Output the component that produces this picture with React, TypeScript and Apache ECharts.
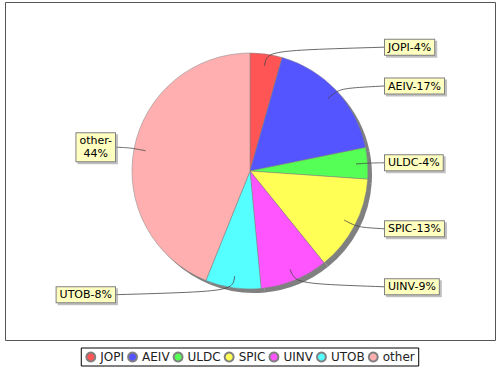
import React, { useEffect, useRef } from "react";
import * as echarts from "echarts";

const CATEGORIES = ["JOPI", "AEIV", "ULDC", "SPIC", "UINV", "UTOB", "other"];
const VALUES = [4.4, 17.4, 4.3, 13.1, 9.3, 7.6, 43.9];
const COLORS = ["#FF5555", "#5555FF", "#55FF55", "#FFFF55", "#FF55FF", "#55FFFF", "#FFAFAF"];
const WRAP_AFTER_DASH = ["other"];

const CX = 250;
const CY = 171;
const R = 118;
const SHADOW_OFFSET = 4;
const LABEL_X_OFFSET = 134;
const LABEL_Y_RADIUS = R + 7;
const LINK_RADIUS = R * 0.9;
const ELBOW_RADIUS = R * 1.03;

function midAngles(values: number[]): number[] {
  const total = values.reduce((a, b) => a + b, 0);
  let cum = 0;
  return values.map((v) => {
    const m = ((cum + v / 2) / total) * Math.PI * 2;
    cum += v;
    return m;
  });
}

function polar(theta: number, rho: number): [number, number] {
  return [CX + rho * Math.sin(theta), CY - rho * Math.cos(theta)];
}

function cubic(p0: number[], c: number[], p3: number[], n: number): number[][] {
  const pts: number[][] = [];
  for (let i = 0; i <= n; i++) {
    const t = i / n;
    const a = (1 - t) * (1 - t) * (1 - t);
    const b = 3 * (1 - t) * (1 - t) * t + 3 * (1 - t) * t * t;
    const d = t * t * t;
    pts.push([a * p0[0] + b * c[0] + d * p3[0], a * p0[1] + b * c[1] + d * p3[1]]);
  }
  return pts;
}

export default function App() {
  const ref = useRef<HTMLDivElement>(null);
  useEffect(() => {
    if (!ref.current) return;
    const chart = echarts.init(ref.current, undefined, { renderer: "svg" });
    const mids = midAngles(VALUES);
    const data = CATEGORIES.map((name, i) => ({ name, value: VALUES[i] }));
    const common = {
      type: "pie",
      center: [CX, CY],
      radius: [0, R],
      startAngle: 90,
      clockwise: true,
      avoidLabelOverlap: false,
      emphasis: { disabled: true },
    };
    chart.setOption({
      animation: false,
      backgroundColor: "#ffffff",
      textStyle: { fontFamily: "DejaVu Sans" },
      graphic: [
        {
          type: "rect",
          shape: { x: 5.5, y: 2.5, width: 490, height: 338 },
          style: { fill: "none", stroke: "#555555", lineWidth: 1 },
          z: 0,
          silent: true,
        },
      ],
      legend: {
        data: CATEGORIES,
        left: "center",
        top: 348,
        icon: "circle",
        itemWidth: 9,
        itemHeight: 9,
        itemGap: 3,
        padding: [3, 4],
        borderColor: "#000000",
        borderWidth: 1,
        textStyle: { fontFamily: "DejaVu Sans", fontSize: 12, color: "#222222" },
      },
      series: [
        {
          ...common,
          name: "main",
          z: 3,
          color: COLORS,
          data,
          itemStyle: { borderColor: "#808080", borderWidth: 0.5 },
          label: { show: false },
          labelLine: { show: false },
        },
        {
          ...common,
          name: "shadow",
          z: 1,
          silent: true,
          center: [CX + SHADOW_OFFSET, CY + SHADOW_OFFSET],
          data: VALUES.map((v) => ({ name: "shadow", value: v })),
          itemStyle: { color: "#808080" },
          label: { show: false },
          labelLine: { show: false },
        },
        {
          ...common,
          name: "labels",
          z: 5,
          silent: true,
          data,
          itemStyle: { color: "rgba(0,0,0,0)", borderWidth: 0 },
          label: {
            show: true,
            position: "outside",
            formatter: (p: any) => {
              const pct = Math.round(p.percent);
              return WRAP_AFTER_DASH.includes(p.name) ? `${p.name}-\n${pct}%` : `${p.name}-${pct}%`;
            },
            fontFamily: "DejaVu Sans",
            fontSize: 11,
            lineHeight: 13,
            align: "center",
            color: "#000000",
            backgroundColor: "#FFFFC0",
            borderColor: "#808080",
            borderWidth: 1,
            padding: [1, 3, 1, 3],
            shadowColor: "rgba(151,151,151,0.6)",
            shadowOffsetX: 2,
            shadowOffsetY: 2,
            shadowBlur: 1,
          },
          labelLine: {
            show: true,
            length: 10,
            length2: 10,
            lineStyle: { color: "#444444", width: 0.8 },
          },
          labelLayout: (params: any) => {
            const theta = mids[params.dataIndex];
            const right = Math.sin(theta) >= 0;
            const w = params.labelRect ? params.labelRect.width : 50;
            const y = CY - LABEL_Y_RADIUS * Math.cos(theta);
            const edgeX = right ? CX + LABEL_X_OFFSET : CX - LABEL_X_OFFSET;
            const x = right ? edgeX + w / 2 : edgeX - w / 2;
            const link = polar(theta, LINK_RADIUS);
            const elbow = polar(theta, ELBOW_RADIUS);
            return {
              x,
              y,
              align: "center",
              verticalAlign: "middle",
              labelLinePoints: cubic(link, elbow, [edgeX, y], 30),
            };
          },
        },
      ],
    });
    return () => chart.dispose();
  }, []);
  return (
    <div
      ref={ref}
      style={{ position: "fixed", left: 0, top: 0, width: 500, height: 370, background: "#fff" }}
    />
  );
}
